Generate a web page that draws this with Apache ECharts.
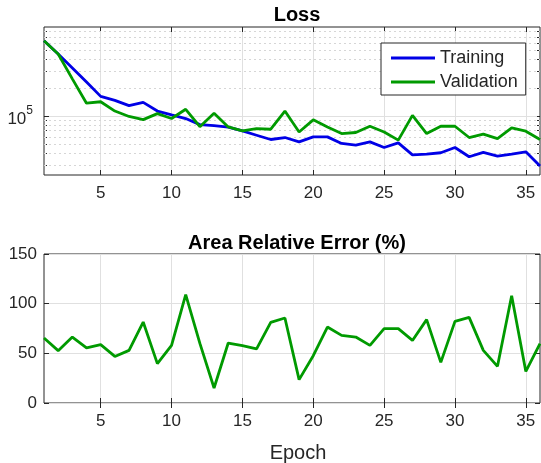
<!DOCTYPE html>
<html><head><meta charset="utf-8">
<script src="https://cdn.jsdelivr.net/npm/echarts@6/dist/echarts.min.js"></script>
<style>html,body{margin:0;padding:0;background:#fff}#c{width:541px;height:463px}</style>
</head><body><div id="c"></div>
<script>
const epochs = [1,2,3,4,5,6,7,8,9,10,11,12,13,14,15,16,17,18,19,20,21,22,23,24,25,26,27,28,29,30,31,32,33,34,35,36];
const training = [635000,459000,326000,230000,162000,147000,129000,140000,113000,103000,94000,81000,79000,76000,69300,62400,56200,59000,53000,59900,59900,51000,49000,53000,46200,51800,38500,39300,40600,46200,36800,40900,37400,39300,41500,29300];
const validation = [635000,459000,249000,137000,142000,113000,99000,91500,106000,94000,118000,77000,107000,76500,69300,73500,72300,113000,67600,91000,76500,65000,66700,77800,67600,55300,101700,65000,77800,77800,59000,64000,57500,74600,68900,56200];
const areaError = [65.4,52.7,66.4,55.4,58.7,46.9,53,81.5,39.6,58,109,60,15.1,60.4,57.7,54.4,81.2,85.6,23.5,47.6,76.5,68.1,66.4,58,74.8,74.8,63,83.9,40.9,82.2,86.2,53,36.9,108,31.8,59.7];
const xTicks = [5,10,15,20,25,30,35];
const lossTicks = [100000];
const lossMinorGrid = [30000,40000,50000,60000,70000,80000,90000,200000,300000,400000,500000,600000,700000,800000];
const errorTicks = [0,50,100,150];

const FONT = 'Liberation Sans, Arial, Helvetica, sans-serif';
const AX = '#262626';
const GRIDC = '#e0e0e0';

function xAx(gridIndex, pos, main) {
  return {
    type: 'value', gridIndex: gridIndex, position: pos, min: 1, max: 36,
    axisLine: {show: false},
    axisTick: {show: true, inside: true, length: 5, customValues: xTicks, lineStyle: {color: AX}},
    axisLabel: {show: main, customValues: xTicks, color: AX, fontSize: 17, margin: 10, fontFamily: FONT},
    splitLine: {show: main, lineStyle: {color: GRIDC, width: 1}}
  };
}
function yLog(pos, main, tickVals, tickLen) {
  return {
    type: 'log', logBase: 10, gridIndex: 0, position: pos, min: 23500, max: 890000,
    axisLine: {show: false},
    axisTick: {show: true, inside: true, length: tickLen, customValues: tickVals, lineStyle: {color: AX}},
    axisLabel: {show: main, customValues: lossTicks, color: AX, fontSize: 17, margin: 11, fontFamily: FONT,
      formatter: function () { return '{b|10}{s|5}'; },
      rich: {
        b: {fontSize: 17, color: AX, fontFamily: FONT, padding: [6, 0, 0, 0]},
        s: {fontSize: 12, verticalAlign: 'top', color: AX, fontFamily: FONT}
      }},
    splitLine: {show: main, lineStyle: {color: GRIDC, width: 1}}
  };
}
function yLin(pos, main) {
  return {
    type: 'value', gridIndex: 1, position: pos, min: 0, max: 150, interval: 50,
    axisLine: {show: false},
    axisTick: {show: true, inside: true, length: 5, lineStyle: {color: AX}},
    axisLabel: {show: main, color: AX, fontSize: 17, margin: 7, fontFamily: FONT},
    splitLine: {show: main, lineStyle: {color: GRIDC, width: 1}}
  };
}

const chart = echarts.init(document.getElementById('c'), null, {renderer: 'canvas'});
chart.setOption({
  animation: false,
  backgroundColor: '#fff',
  textStyle: {fontFamily: FONT},
  title: [
    {text: 'Loss', left: 292, top: 0, textAlign: 'center', textStyle: {fontSize: 20, fontWeight: 'bold', color: '#000', fontFamily: FONT}},
    {text: 'Area Relative Error (%)', left: 292, top: 228, textAlign: 'center', textStyle: {fontSize: 20, fontWeight: 'bold', color: '#000', fontFamily: FONT}},
    {text: 'Epoch', left: 293, top: 438, textAlign: 'center', textStyle: {fontSize: 20, fontWeight: 'normal', color: AX, fontFamily: FONT}}
  ],
  grid: [
    {left: 44, top: 27, width: 496, height: 148, show: true, borderColor: AX, borderWidth: 1, backgroundColor: '#fff'},
    {left: 44, top: 254, width: 496, height: 149, show: true, borderColor: AX, borderWidth: 1, backgroundColor: '#fff'}
  ],
  legend: {
    data: [{name: 'Training', icon: 'rect'}, {name: 'Validation', icon: 'rect'}],
    orient: 'vertical', left: 381, top: 43,
    padding: [6, 8, 4, 10], itemGap: 6, itemWidth: 44, itemHeight: 3,
    backgroundColor: '#fff', borderColor: AX, borderWidth: 1, borderRadius: 0,
    textStyle: {fontSize: 18, color: AX, fontFamily: FONT}
  },
  xAxis: [xAx(0, 'bottom', true), xAx(1, 'bottom', true), xAx(0, 'top', false), xAx(1, 'top', false)],
  yAxis: [
    yLog('left', true, lossTicks, 5),
    yLin('left', true),
    yLog('right', false, lossTicks.concat(lossMinorGrid), 3),
    yLin('right', false),
    yLog('left', false, lossMinorGrid, 3)
  ],
  series: [
    {
      name: 'minor', type: 'line', xAxisIndex: 0, yAxisIndex: 0, data: [], z: 1, silent: true,
      markLine: {
        silent: true, symbol: 'none', label: {show: false}, animation: false, z: 1,
        lineStyle: {color: '#d6d6d6', type: [2, 3], width: 1},
        data: lossMinorGrid.map(v => ({yAxis: v}))
      }
    },
    {
      name: 'Training', type: 'line', xAxisIndex: 0, yAxisIndex: 0, z: 3,
      data: epochs.map((e, i) => [e, training[i]]),
      symbol: 'none', color: '#0000e6', lineStyle: {width: 2.8, color: '#0000e6'}
    },
    {
      name: 'Validation', type: 'line', xAxisIndex: 0, yAxisIndex: 0, z: 4,
      data: epochs.map((e, i) => [e, validation[i]]),
      symbol: 'none', color: '#009a00', lineStyle: {width: 2.8, color: '#009a00'}
    },
    {
      name: 'Area Relative Error', type: 'line', xAxisIndex: 1, yAxisIndex: 1, z: 3,
      data: epochs.map((e, i) => [e, areaError[i]]),
      symbol: 'none', color: '#009a00', lineStyle: {width: 2.8, color: '#009a00'}
    }
  ]
});
</script>
</body></html>
